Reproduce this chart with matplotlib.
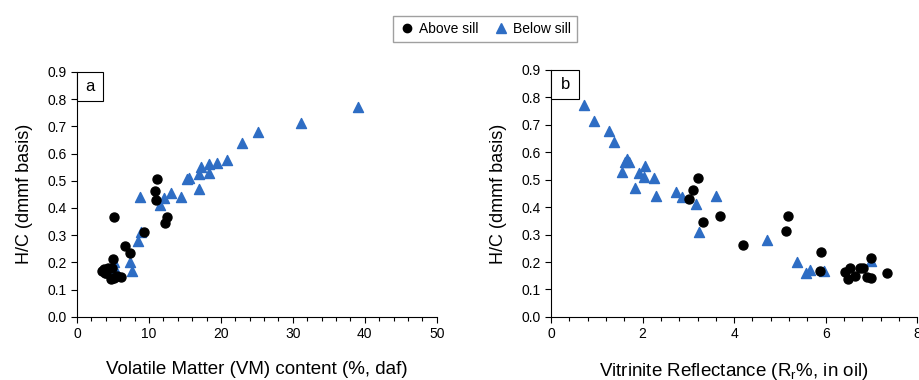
import matplotlib
matplotlib.use("Agg")
import matplotlib.pyplot as plt
from matplotlib.patches import Rectangle
from matplotlib.ticker import MultipleLocator, FormatStrFormatter

plt.rcParams['font.family'] = ['Liberation Sans', 'DejaVu Sans']

# Above sill samples: H/C, VM (% daf), Rr (%)
above_hc = [0.506, 0.462, 0.428, 0.367, 0.345, 0.367, 0.312, 0.262, 0.235, 0.214,
            0.167, 0.162, 0.138, 0.177, 0.150, 0.179, 0.178, 0.146, 0.143, 0.160]
above_vm = [11.1, 10.9, 11.0, 12.5, 12.3, 5.1, 9.3, 6.7, 7.3, 5.0,
            3.5, 3.9, 4.7, 3.8, 5.5, 4.9, 4.3, 6.1, 5.2, 4.0]
above_rr = [3.20, 3.10, 3.01, 3.69, 3.33, 5.17, 5.13, 4.19, 5.89, 7.00,
            5.88, 6.43, 6.48, 6.54, 6.64, 6.75, 6.81, 6.91, 6.99, 7.33]

# Below sill samples
below_hc = [0.771, 0.713, 0.679, 0.639, 0.575, 0.565, 0.563, 0.549, 0.527, 0.524,
            0.510, 0.505, 0.470, 0.456, 0.441, 0.441, 0.436, 0.411, 0.311, 0.279,
            0.203, 0.201, 0.169, 0.170, 0.160]
below_vm = [39.0, 31.2, 25.1, 23.0, 20.8, 19.5, 18.4, 17.2, 18.4, 16.9,
            15.6, 15.3, 17.0, 13.0, 14.4, 8.7, 12.1, 11.6, 8.9, 8.5,
            5.1, 7.3, 7.6, 5.3, 5.5]
below_rr = [0.73, 0.93, 1.27, 1.38, 1.66, 1.61, 1.71, 2.05, 1.54, 1.93,
            2.04, 2.25, 1.84, 2.73, 2.30, 3.60, 2.85, 3.16, 3.23, 4.72,
            7.00, 5.38, 5.96, 5.65, 5.57]

blue = '#2E6DC4'

fig = plt.figure(figsize=(9.2, 3.8), dpi=100)
ax_a = fig.add_axes([0.0837, 0.166, 0.391, 0.645])
ax_b = fig.add_axes([0.599, 0.166, 0.398, 0.650])


def style_axes(ax, xmax, xmajor, xminor, xlabel):
    ax.set_xlim(0, xmax)
    ax.set_ylim(0, 0.9)
    ax.xaxis.set_major_locator(MultipleLocator(xmajor))
    ax.xaxis.set_minor_locator(MultipleLocator(xminor))
    ax.yaxis.set_major_locator(MultipleLocator(0.1))
    ax.yaxis.set_major_formatter(FormatStrFormatter('%.1f'))
    ax.spines['top'].set_visible(False)
    ax.spines['right'].set_visible(False)
    ax.tick_params(which='both', direction='out', labelsize=10, width=0.8)
    ax.tick_params(which='major', length=4)
    ax.tick_params(which='minor', length=3)
    ax.set_xlabel(xlabel, fontsize=13.5, labelpad=14)
    ax.set_ylabel('H/C (dmmf basis)', fontsize=13, labelpad=10)


ax_a.scatter(below_vm, below_hc, marker='^', s=52, color=blue, zorder=3, clip_on=False)
ax_a.scatter(above_vm, above_hc, marker='o', s=42, color='black', zorder=4, clip_on=False)
style_axes(ax_a, 50, 10, 2, 'Volatile Matter (VM) content (%, daf)')

ax_b.scatter(below_rr, below_hc, marker='^', s=52, color=blue, zorder=3, clip_on=False)
ax_b.scatter(above_rr, above_hc, marker='o', s=42, color='black', zorder=4, clip_on=False)
style_axes(ax_b, 8, 2, 0.4, r'Vitrinite Reflectance (R$_\mathregular{r}$%, in oil)')

# panel letters in boxes
for ax, letter, w, h in [(ax_a, 'a', 0.073, 0.118), (ax_b, 'b', 0.077, 0.118)]:
    ax.add_patch(Rectangle((0, 1 - h), w, h, transform=ax.transAxes,
                           facecolor='white', edgecolor='black', linewidth=0.8,
                           zorder=5, clip_on=False))
    ax.text(w / 2, 1 - h / 2, letter, transform=ax.transAxes, ha='center',
            va='center', fontsize=12, zorder=6)

# shared legend on top
h1 = plt.Line2D([], [], marker='o', color='black', linestyle='none', markersize=6)
h2 = plt.Line2D([], [], marker='^', color=blue, linestyle='none', markersize=7)
fig.legend([h1, h2], ['Above sill', 'Below sill'], loc='upper center',
           bbox_to_anchor=(0.527, 0.975), ncol=2, fontsize=10, frameon=True,
           fancybox=False, edgecolor='#888888', handletextpad=0.3,
           columnspacing=1.0, borderpad=0.4, handlelength=1.2)

fig.savefig('out.png', dpi=100)
